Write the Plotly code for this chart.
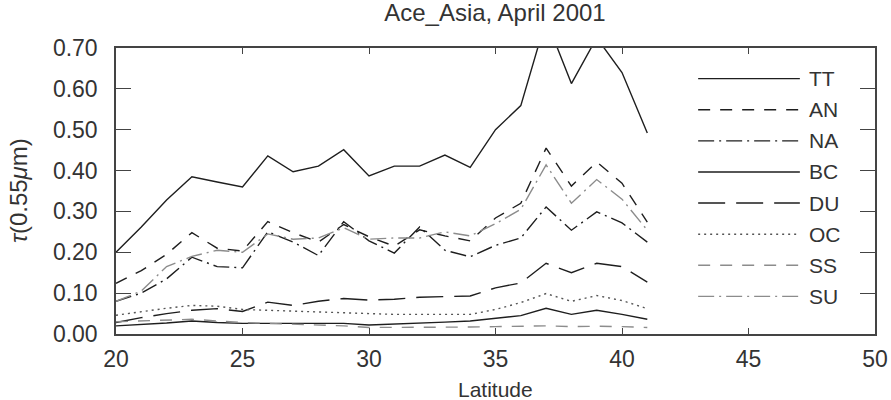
import plotly.graph_objects as go

# Latitude bins (degrees N)
latitude = list(range(20, 42))

# Aerosol optical depth at 0.55 um by component
tt = [0.200, 0.262, 0.328, 0.385, 0.372, 0.360, 0.436, 0.397, 0.411, 0.451, 0.387,
      0.411, 0.411, 0.438, 0.408, 0.500, 0.559, 0.770, 0.613, 0.725, 0.640, 0.492]
an = [0.124, 0.155, 0.195, 0.248, 0.210, 0.203, 0.275, 0.248, 0.225, 0.268, 0.238,
      0.215, 0.255, 0.240, 0.228, 0.284, 0.320, 0.455, 0.362, 0.421, 0.369, 0.274]
na = [0.080, 0.100, 0.135, 0.188, 0.165, 0.162, 0.250, 0.225, 0.192, 0.275, 0.228,
      0.198, 0.262, 0.205, 0.189, 0.217, 0.235, 0.311, 0.254, 0.299, 0.272, 0.225]
bc = [0.020, 0.023, 0.027, 0.032, 0.028, 0.026, 0.026, 0.025, 0.025, 0.026, 0.022,
      0.024, 0.026, 0.029, 0.032, 0.038, 0.045, 0.063, 0.048, 0.058, 0.048, 0.036]
du = [0.028, 0.040, 0.050, 0.058, 0.062, 0.055, 0.078, 0.070, 0.080, 0.087, 0.083,
      0.085, 0.090, 0.092, 0.093, 0.113, 0.125, 0.173, 0.150, 0.173, 0.165, 0.127]
oc = [0.046, 0.055, 0.063, 0.070, 0.068, 0.060, 0.058, 0.055, 0.053, 0.052, 0.050,
      0.048, 0.048, 0.048, 0.048, 0.060, 0.077, 0.099, 0.080, 0.094, 0.082, 0.062]
ss = [0.030, 0.032, 0.034, 0.036, 0.032, 0.028, 0.026, 0.024, 0.022, 0.020, 0.016,
      0.016, 0.017, 0.017, 0.017, 0.018, 0.019, 0.020, 0.018, 0.019, 0.018, 0.016]
su = [0.080, 0.105, 0.165, 0.190, 0.205, 0.200, 0.245, 0.232, 0.235, 0.260, 0.232,
      0.235, 0.235, 0.250, 0.240, 0.270, 0.305, 0.414, 0.320, 0.378, 0.330, 0.254]

names = ["TT", "AN", "NA", "BC", "DU", "OC", "SS", "SU"]
values = [tt, an, na, bc, du, oc, ss, su]

y_ticks = [0.0, 0.1, 0.2, 0.3, 0.4, 0.5, 0.6, 0.7]
x_ticks = [20, 25, 30, 35, 40, 45, 50]

BLACK = "#1e1e1e"
GREY = "#8c8c8c"
styles = {
    "TT": (BLACK, "solid"),
    "AN": (BLACK, "12px,10px"),
    "NA": (BLACK, "16px,5px,2px,5px"),
    "BC": (BLACK, "solid"),
    "DU": (BLACK, "27px,11px"),
    "OC": ("#555555", "2px,4px"),
    "SS": (GREY, "12px,10px"),
    "SU": (GREY, "16px,5px,2px,5px"),
}

FONT = "Liberation Sans"
TEXT = "#333333"

fig = go.Figure()
for name, ys in zip(names, values):
    color, dash = styles[name]
    fig.add_trace(go.Scatter(
        x=latitude, y=ys, mode="lines", name=name, showlegend=False,
        line=dict(color=color, width=1.4, dash=dash),
    ))

# Key drawn inside the frame on the right: sample line + label per component
row0, row_step = 0.893, 0.1088
for i, name in enumerate(names):
    color, dash = styles[name]
    yy = row0 - i * row_step
    fig.add_shape(type="line", xref="paper", yref="paper",
                  x0=0.767, x1=0.901, y0=yy, y1=yy,
                  line=dict(color=color, width=1.4, dash=dash))
    fig.add_annotation(xref="paper", yref="paper", x=0.911, y=yy,
                       text=name, showarrow=False, xanchor="left", yanchor="middle",
                       font=dict(family=FONT, size=21, color=TEXT))

# Axis titles placed in the margins
fig.add_annotation(xref="paper", yref="paper", x=0.5, y=-0.195,
                   text="Latitude", showarrow=False,
                   xanchor="center", yanchor="middle",
                   font=dict(family=FONT, size=21, color=TEXT))
fig.add_annotation(xref="paper", yref="paper", x=-0.129, y=0.5,
                   text="<i>τ</i>(0.55<i>μ</i>m)", showarrow=False, textangle=-90,
                   xanchor="center", yanchor="middle",
                   font=dict(family=FONT, size=24, color=TEXT))

axis_common = dict(
    showline=True, linecolor="#444444", linewidth=1.5, mirror="ticks",
    ticks="inside", tickcolor="#444444", tickwidth=1.3,
    showgrid=False, zeroline=False, automargin=False,
    tickfont=dict(family=FONT, size=23, color=TEXT),
)

fig.update_xaxes(range=[20, 50], tickvals=x_ticks, ticklen=6,
                 ticklabelstandoff=4, **axis_common)
fig.update_yaxes(range=[0, 0.7], tickvals=y_ticks, tickformat=".2f", ticklen=15,
                 ticklabelstandoff=12, **axis_common)

fig.update_layout(
    width=891, height=400,
    margin=dict(l=116, r=16, t=48, b=66),
    paper_bgcolor="white", plot_bgcolor="white",
    title=dict(text="Ace_Asia, April 2001", x=0.5555, xanchor="center",
               y=0.99, yanchor="top",
               font=dict(family=FONT, size=24, color=TEXT)),
)

fig.write_html("out.html")
